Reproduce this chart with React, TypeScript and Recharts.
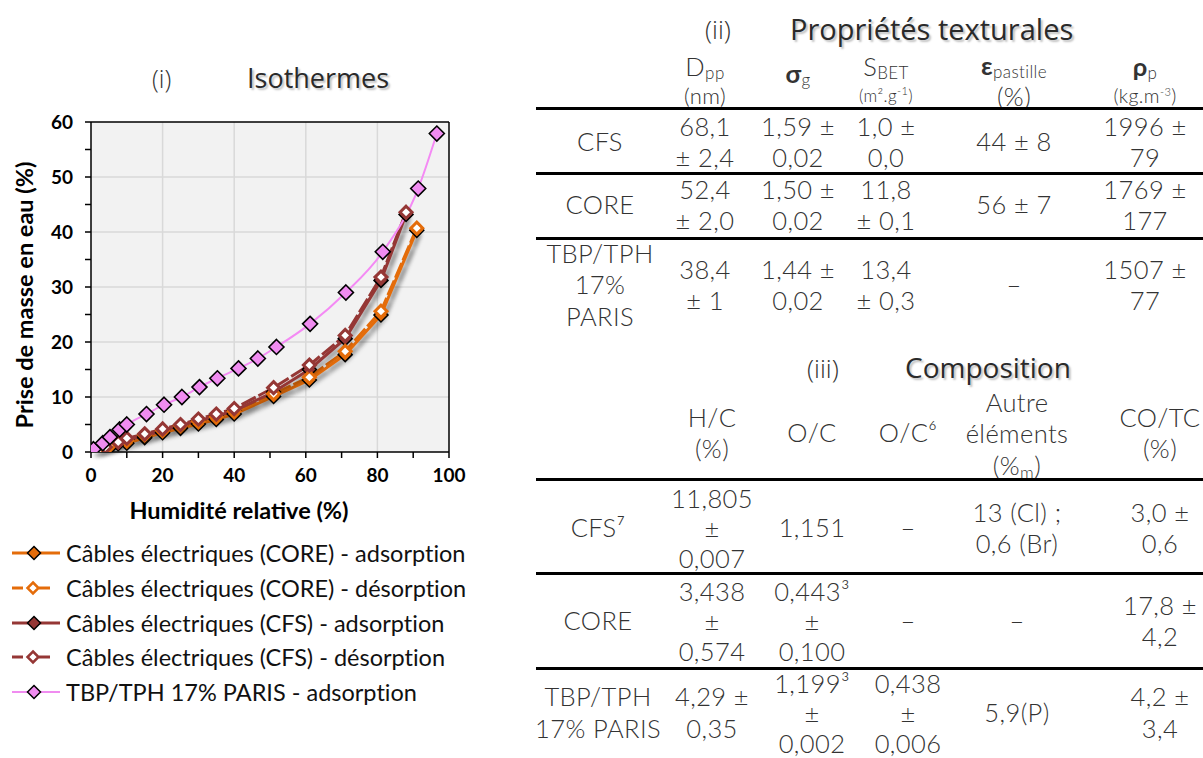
import React from 'react';
import { ComposedChart, Line, XAxis, YAxis, CartesianGrid, ReferenceLine, Label } from 'recharts';

// ---------- Isotherm data (x = humidité relative %, y = prise de masse %) ----------
const coreAdsorption: [number, number][] = [
  [0.5, 0], [5, 0.7], [10, 1.6], [15, 2.6], [20, 3.5], [25, 4.3], [30, 5.1], [35, 5.9],
  [40, 6.9], [51, 10.1], [61, 13.1], [71, 17.7], [81, 24.9], [91, 40.3],
];
const coreDesorption: [number, number][] = [
  [91, 40.7], [81, 25.6], [71, 18.3], [61, 13.6], [51, 10.6], [40, 7.4], [35, 6.4],
  [30, 5.6], [25, 4.8], [20, 3.9], [15, 3.1], [10, 2.1], [5, 1.1], [2, 0.3],
];
const cfsAdsorption: [number, number][] = [
  [0, 0], [3, 0.6], [7.6, 1.5], [10, 2.2], [15, 2.9], [20, 3.9], [25, 4.8], [30, 5.7],
  [35, 6.5], [40, 7.5], [51, 10.9], [61, 15.0], [71, 20.6], [81, 31.2], [88, 43.2],
];
const cfsDesorption: [number, number][] = [
  [88, 43.6], [81, 31.8], [71, 21.2], [61, 15.8], [51, 11.7], [40, 7.9], [35, 6.9],
  [30, 6.0], [25, 5.0], [20, 4.2], [15, 3.3], [10, 2.5], [7.6, 1.8], [4, 0.9],
];
const parisAdsorption: [number, number][] = [
  [0.7, 0.5], [3.3, 1.6], [5.3, 2.7], [8, 4.1], [10, 5], [15.5, 6.9], [20.4, 8.6],
  [25.4, 10], [30.3, 11.8], [35.3, 13.4], [41.2, 15.2], [46.6, 17], [51.8, 19.1],
  [61.2, 23.3], [71.2, 29], [81.5, 36.4], [91.4, 47.9], [96.6, 57.9],
];

const xTicks = [0, 10, 20, 30, 40, 50, 60, 70, 80, 90, 100];
const yTicks = [0, 5, 10, 15, 20, 25, 30, 35, 40, 45, 50, 55, 60];
const xGrid = [20, 40, 60, 80];
const yGrid = [10, 20, 30, 40, 50];

const seriesNames = [
  'Câbles électriques (CORE) - adsorption',
  'Câbles électriques (CORE) - désorption',
  'Câbles électriques (CFS) - adsorption',
  'Câbles électriques (CFS) - désorption',
  'TBP/TPH 17% PARIS - adsorption',
];

// ---------- Table data ----------
const texturalRowLabels = [['CFS'], ['CORE'], ['TBP/TPH', '17%', 'PARIS']];
const texturalDpp = [['68,1', '± 2,4'], ['52,4', '± 2,0'], ['38,4', '± 1']];
const texturalSigma = [['1,59 ±', '0,02'], ['1,50 ±', '0,02'], ['1,44 ±', '0,02']];
const texturalSbet = [['1,0 ±', '0,0'], ['11,8', '± 0,1'], ['13,4', '± 0,3']];
const texturalEps = [['44 ± 8'], ['56 ± 7'], ['–']];
const texturalRho = [['1996 ±', '79'], ['1769 ±', '177'], ['1507 ±', '77']];

const compRowLabels = [['CFS⁷'], ['CORE'], ['TBP/TPH', '17% PARIS']];
const compHC = [['11,805', '±', '0,007'], ['3,438', '±', '0,574'], ['4,29 ±', '0,35']];
const compOC = [['1,151'], ['0,443³', '±', '0,100'], ['1,199³', '±', '0,002']];
const compOC6 = [['–'], ['–'], ['0,438', '±', '0,006']];
const compOther = [['13 (Cl) ;', '0,6 (Br)'], ['–'], ['5,9(P)']];
const compCOTC = [['3,0 ±', '0,6'], ['17,8 ±', '4,2'], ['4,2 ±', '3,4']];

const toPts = (arr: [number, number][]) => arr.map(([x, y]) => ({ x, y }));

const CORE = '#e46c0a';
const CFS = '#953735';
const PINK = '#f08cf0';
const PINK_LINE = '#f48af4';

const diamond = (fill: string, stroke: string, sw: number, r: number) => (props: any) => {
  const { cx, cy, index } = props;
  if (cx == null || cy == null) return <g key={index} />;
  return (
    <path
      key={index}
      d={`M${cx},${cy - r}L${cx + r},${cy}L${cx},${cy + r}L${cx - r},${cy}Z`}
      fill={fill}
      stroke={stroke}
      strokeWidth={sw}
    />
  );
};

const tickFont = { fontFamily: 'Lato', fontWeight: 700, fontSize: 19, fill: '#000' };
const titleFont = { fontFamily: 'Lato', fontWeight: 700, fontSize: 23.5, fill: '#000' };

const TXT = '#333';
const tableFont: React.CSSProperties = {
  fontFamily: 'Lato',
  fontWeight: 300,
  fontSize: 25.5,
  letterSpacing: '0.4px',
  color: TXT,
  fontVariantLigatures: 'none',
};
const LH = 31.5;

function Cell({ cx, cy, lines, lh = LH, style }: { cx: number; cy: number; lines: React.ReactNode[]; lh?: number; style?: React.CSSProperties }) {
  const h = lines.length * lh;
  return (
    <div
      style={{
        position: 'absolute',
        left: cx - 100,
        width: 200,
        top: cy - h / 2,
        height: h,
        textAlign: 'center',
        lineHeight: `${lh}px`,
        whiteSpace: 'nowrap',
        ...tableFont,
        ...style,
      }}
    >
      {lines.map((l, i) => (
        <div key={i}>{l}</div>
      ))}
    </div>
  );
}

function Rule({ y }: { y: number }) {
  return <div style={{ position: 'absolute', left: 536, width: 667, top: y - 1.5, height: 3, background: '#000' }} />;
}

const subStyle: React.CSSProperties = { fontSize: 17, position: 'relative', top: 4 };
const subHead: React.CSSProperties = { fontSize: 17, position: 'relative', top: 3 };
const supSmall: React.CSSProperties = { fontSize: 11, position: 'relative', top: -7 };

function LegendIcon({ color, dashed, filled }: { color: string; dashed: boolean; filled: boolean }) {
  return (
    <svg width={62} height={20} style={{ position: 'absolute', left: 0, top: -10 }}>
      {dashed ? (
        <>
          <line x1={12} y1={10} x2={23} y2={10} stroke={color} strokeWidth={3} />
          <line x1={39} y1={10} x2={50} y2={10} stroke={color} strokeWidth={3} />
        </>
      ) : (
        <line x1={12} y1={10} x2={60} y2={10} stroke={color} strokeWidth={color === PINK ? 2 : 3} />
      )}
      {filled ? (
        <path d="M34,3.5L40.5,10L34,16.5L27.5,10Z" fill={color} stroke="#000" strokeWidth={1.5} />
      ) : (
        <path d="M33,4.5L38.5,10L33,15.5L27.5,10Z" fill="#fff" stroke={color} strokeWidth={2.5} />
      )}
    </svg>
  );
}

export default function App() {
  const legendItems = [
    { name: seriesNames[0], color: CORE, dashed: false, filled: true },
    { name: seriesNames[1], color: CORE, dashed: true, filled: false },
    { name: seriesNames[2], color: CFS, dashed: false, filled: true },
    { name: seriesNames[3], color: CFS, dashed: true, filled: false },
    { name: seriesNames[4], color: PINK, dashed: false, filled: true },
  ];
  const legendY = [553, 588, 623, 657, 692];

  const tCols = [600, 705, 798, 886, 1014, 1145];
  const tRows = [142, 205, 285];
  const cCols = [598, 712, 812, 908, 1017, 1160];
  const cRows = [528, 621, 712.5];
  const lhFor = (lines: string[]) => (lines.length === 3 ? 30 : LH);

  return (
    <div
      style={{
        position: 'absolute',
        left: 0,
        top: 0,
        width: 1203,
        height: 758,
        background: '#fff',
        overflow: 'hidden',
      }}
    >
      <style>{`.shadowed { filter: drop-shadow(3px 4px 2px rgba(0,0,0,0.35)); }`}</style>

      {/* Chart title */}
      <div style={{ position: 'absolute', left: 152, top: 61, fontFamily: 'Open Sans', fontWeight: 300, fontSize: 25, color: '#333' }}>(i)</div>
      <div
        style={{
          position: 'absolute',
          left: 247,
          top: 59,
          fontFamily: 'Open Sans',
          fontWeight: 400,
          fontSize: 27,
          color: '#2a2a2a',
          textShadow: '2px 2px 2px rgba(0,0,0,0.25)',
        }}
      >
        Isothermes
      </div>

      <div style={{ position: 'absolute', left: 0, top: 0 }}>
        <ComposedChart width={480} height={530} margin={{ top: 122, right: 31, bottom: 48, left: 0 }}>
          <CartesianGrid
            fill="#f2f2f2"
            stroke="#d9d9d9"
            strokeWidth={1.5}
            horizontalValues={yGrid}
            verticalValues={xGrid}
          />
          <XAxis
            type="number"
            dataKey="x"
            domain={[0, 100]}
            ticks={xTicks}
            interval={0}
            tickFormatter={(v: number) => (v % 20 === 0 ? String(v) : '')}
            tick={tickFont}
            tickSize={6}
            tickMargin={11}
            axisLine={{ stroke: '#000', strokeWidth: 1.5 }}
            tickLine={{ stroke: '#000', strokeWidth: 1.5 }}
            height={30}
            allowDataOverflow
          >
            <Label
              content={() => (
                <text x={239} y={510} textAnchor="middle" dominantBaseline="central" style={titleFont}>
                  Humidité relative (%)
                </text>
              )}
            />
          </XAxis>
          <YAxis
            type="number"
            domain={[0, 60]}
            ticks={yTicks}
            interval={0}
            tickFormatter={(v: number) => (v % 10 === 0 ? String(v) : '')}
            tick={tickFont}
            tickSize={6}
            tickMargin={12}
            axisLine={{ stroke: '#000', strokeWidth: 1.5 }}
            tickLine={{ stroke: '#000', strokeWidth: 1.5 }}
            width={91}
            allowDataOverflow
          >
            <Label
              content={(p: any) => {
                const vb = p.viewBox || { y: 122, height: 330 };
                const cx = 24;
                const cy = vb.y + vb.height / 2 + 8;
                return (
                  <text
                    x={cx}
                    y={cy}
                    transform={`rotate(-90 ${cx} ${cy})`}
                    textAnchor="middle"
                    dominantBaseline="central"
                    style={titleFont}
                  >
                    Prise de masse en eau (%)
                  </text>
                );
              }}
            />
          </YAxis>
          <ReferenceLine y={60} stroke="#000" strokeWidth={1.5} />
          <ReferenceLine x={100} stroke="#000" strokeWidth={1.5} />

          {/* desorption lines underneath */}
          <Line
            className="shadowed"
            data={toPts(coreDesorption)}
            dataKey="y"
            type="linear"
            stroke={CORE}
            strokeWidth={3}
            strokeDasharray="16 3"
            dot={false}
            isAnimationActive={false}
            name={seriesNames[1]}
          />
          <Line
            className="shadowed"
            data={toPts(cfsDesorption)}
            dataKey="y"
            type="linear"
            stroke={CFS}
            strokeWidth={3}
            strokeDasharray="16 3"
            dot={false}
            isAnimationActive={false}
            name={seriesNames[3]}
          />
          <Line
            className="shadowed"
            data={toPts(coreAdsorption)}
            dataKey="y"
            type="linear"
            stroke={CORE}
            strokeWidth={3}
            dot={diamond(CORE, '#000', 1.5, 7)}
            isAnimationActive={false}
            name={seriesNames[0]}
          />
          <Line
            className="shadowed"
            data={toPts(cfsAdsorption)}
            dataKey="y"
            type="linear"
            stroke={CFS}
            strokeWidth={3}
            dot={diamond(CFS, '#000', 1.5, 7)}
            isAnimationActive={false}
            name={seriesNames[2]}
          />
          {/* desorption markers on top */}
          <Line
            className="shadowed"
            data={toPts(coreDesorption)}
            dataKey="y"
            type="linear"
            stroke="none"
            dot={diamond('#fff', CORE, 3, 6)}
            isAnimationActive={false}
            legendType="none"
          />
          <Line
            className="shadowed"
            data={toPts(cfsDesorption)}
            dataKey="y"
            type="linear"
            stroke="none"
            dot={diamond('#fff', CFS, 3, 6)}
            isAnimationActive={false}
            legendType="none"
          />
          <Line
            data={toPts(parisAdsorption)}
            dataKey="y"
            type="monotone"
            stroke={PINK_LINE}
            strokeWidth={2}
            dot={diamond(PINK, '#000', 1.6, 7.5)}
            isAnimationActive={false}
            name={seriesNames[4]}
          />
        </ComposedChart>
      </div>

      {/* Legend */}
      {legendItems.map((it, i) => (
        <div key={i} style={{ position: 'absolute', left: 0, top: legendY[i] }}>
          <LegendIcon color={it.color} dashed={it.dashed} filled={it.filled} />
          <div
            style={{
              position: 'absolute',
              left: 66,
              top: -15,
              whiteSpace: 'nowrap',
              fontFamily: 'Lato',
              fontSize: 23.5,
              lineHeight: '30px',
              color: '#111',
              fontVariantLigatures: 'none',
            }}
          >
            {it.name}
          </div>
        </div>
      ))}

      {/* (ii) Propriétés texturales */}
      <div style={{ position: 'absolute', left: 705, top: 11, fontFamily: 'Open Sans', fontWeight: 300, fontSize: 26, color: '#333' }}>(ii)</div>
      <div
        style={{
          position: 'absolute',
          left: 790,
          top: 9,
          fontFamily: 'Open Sans',
          fontWeight: 400,
          fontSize: 29,
          color: '#2a2a2a',
          textShadow: '2px 2px 2px rgba(0,0,0,0.25)',
        }}
      >
        Propriétés texturales
      </div>

      {/* header line 1 */}
      <Cell cx={tCols[1]} cy={66} lh={24} lines={[<span>D<span style={subHead}>pp</span></span>]} />
      <Cell cx={tCols[2]} cy={73} lh={24} lines={[<span><b style={{ fontWeight: 700 }}>σ</b><span style={subHead}>g</span></span>]} />
      <Cell cx={tCols[3]} cy={66} lh={24} lines={[<span>S<span style={subHead}>BET</span></span>]} />
      <Cell cx={tCols[4]} cy={65} lh={24} lines={[<span><b style={{ fontWeight: 700 }}>ε</b><span style={subHead}>pastille</span></span>]} />
      <Cell cx={tCols[5]} cy={66} lh={24} lines={[<span><b style={{ fontWeight: 700 }}>ρ</b><span style={subHead}>p</span></span>]} />
      {/* header line 2 */}
      <Cell cx={tCols[1]} cy={96} lh={20} lines={['(nm)']} style={{ fontSize: 22 }} />
      <Cell cx={tCols[3]} cy={96} lh={18} lines={[<span>(m².g<span style={supSmall}>-1</span>)</span>]} style={{ fontSize: 17 }} />
      <Cell cx={tCols[4]} cy={96} lh={22} lines={['(%)']} />
      <Cell cx={tCols[5]} cy={96} lh={20} lines={[<span>(kg.m<span style={supSmall}>-3</span>)</span>]} style={{ fontSize: 19.5 }} />
      <Rule y={108} />
      <Rule y={173} />
      <Rule y={238} />
      {tRows.map((cy, r) => (
        <React.Fragment key={r}>
          <Cell cx={tCols[0]} cy={cy} lines={texturalRowLabels[r]} />
          <Cell cx={tCols[1]} cy={cy} lines={texturalDpp[r]} />
          <Cell cx={tCols[2]} cy={cy} lines={texturalSigma[r]} />
          <Cell cx={tCols[3]} cy={cy} lines={texturalSbet[r]} />
          <Cell cx={tCols[4]} cy={cy} lines={texturalEps[r]} />
          <Cell cx={tCols[5]} cy={cy} lines={texturalRho[r]} />
        </React.Fragment>
      ))}

      {/* (iii) Composition */}
      <div style={{ position: 'absolute', left: 807, top: 350, fontFamily: 'Open Sans', fontWeight: 300, fontSize: 26, color: '#333' }}>(iii)</div>
      <div
        style={{
          position: 'absolute',
          left: 905,
          top: 348,
          fontFamily: 'Open Sans',
          fontWeight: 400,
          fontSize: 28,
          color: '#2a2a2a',
          textShadow: '2px 2px 2px rgba(0,0,0,0.25)',
        }}
      >
        Composition
      </div>
      <Cell cx={cCols[1]} cy={433} lines={['H/C', '(%)']} />
      <Cell cx={cCols[2]} cy={433} lines={['O/C']} />
      <Cell cx={cCols[3]} cy={433} lines={['O/C⁶']} />
      <Cell cx={cCols[4]} cy={434} lines={['Autre', 'éléments', <span>(%<span style={subStyle}>m</span>)</span>]} />
      <Cell cx={cCols[5]} cy={433} lines={['CO/TC', '(%)']} />
      <Rule y={479} />
      <Rule y={573} />
      <Rule y={668} />
      {cRows.map((cy, r) => (
        <React.Fragment key={r}>
          <Cell cx={cCols[0]} cy={cy} lines={compRowLabels[r]} lh={lhFor(compRowLabels[r])} />
          <Cell cx={cCols[1]} cy={cy} lines={compHC[r]} lh={lhFor(compHC[r])} />
          <Cell cx={cCols[2]} cy={cy} lines={compOC[r]} lh={lhFor(compOC[r])} />
          <Cell cx={cCols[3]} cy={cy} lines={compOC6[r]} lh={lhFor(compOC6[r])} />
          <Cell cx={cCols[4]} cy={cy} lines={compOther[r]} lh={lhFor(compOther[r])} />
          <Cell cx={cCols[5]} cy={cy} lines={compCOTC[r]} lh={lhFor(compCOTC[r])} />
        </React.Fragment>
      ))}
    </div>
  );
}
